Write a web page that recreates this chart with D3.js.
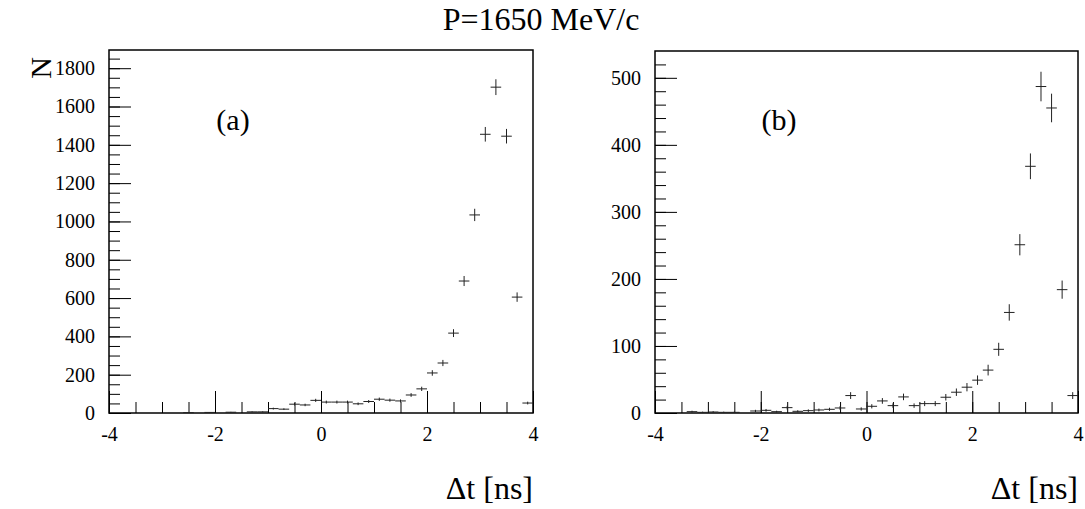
<!DOCTYPE html>
<html>
<head>
<meta charset="utf-8">
<script src="https://cdn.jsdelivr.net/npm/d3@7"></script>
<style>
  html, body { margin: 0; padding: 0; background: #fff; }
  svg { display: block; }
  text { font-family: "Liberation Serif", "DejaVu Serif", serif; fill: #000; }
</style>
</head>
<body>
<svg id="chart" width="1085" height="509"></svg>
<script>
// ---- data ----
const binCenters = [-3.9,-3.7,-3.5,-3.3,-3.1,-2.9,-2.7,-2.5,-2.3,-2.1,-1.9,-1.7,-1.5,-1.3,-1.1,-0.9,-0.7,-0.5,-0.3,-0.1,
                     0.1,0.3,0.5,0.7,0.9,1.1,1.3,1.5,1.7,1.9,2.1,2.3,2.5,2.7,2.9,3.1,3.3,3.5,3.7,3.9];
const countsA = [0,0,0,0,0,0,0,2,0,3,0,4,0,6,6,23,20,46,42,66,
                 57,57,57,48,60,72,67,63,94,126,209,261,417,689,1034,1455,1701,1445,605,52];
const countsB = [0,0,0,2,1,1.5,1,1,0,3,4,2,8,2.5,3.5,4.5,5.5,7.5,26,6,
                 10,18,11,24,11,14,14,23.5,31,38.5,49,64,95,150,251,368,487,455,184,26];
const binWidth = 0.2;
const xTickLabels = [-4,-2,0,2,4];
const yTickLabelsA = [0,200,400,600,800,1000,1200,1400,1600,1800];
const yTickLabelsB = [0,100,200,300,400,500];
const titleText = "P=1650 MeV/c";
const xLabel = "\u0394t [ns]";
const yLabel = "N";

// ---- layout ----
const svg = d3.select("#chart");
const panels = [
  {counts: countsA, left: 109, right: 533, top: 50, bottom: 413, ymax: 1895,
   yMajor: yTickLabelsA, yMinorStep: 50, tag: "(a)", tagX: 233},
  {counts: countsB, left: 655, right: 1078, top: 51, bottom: 413, ymax: 540,
   yMajor: yTickLabelsB, yMinorStep: 20, tag: "(b)", tagX: 779}
];
const fmt = d => String(d);

svg.append("text").attr("x", 541).attr("y", 30).attr("text-anchor", "middle")
  .style("font-size", "32px").text(titleText);

panels.forEach((p, i) => {
  const x = d3.scaleLinear().domain([-4, 4]).range([p.left, p.right]);
  const y = d3.scaleLinear().domain([0, p.ymax]).range([p.bottom, p.top]);
  const g = svg.append("g");

  // minor x ticks
  const xMinor = d3.range(-4, 4.001, 0.5);
  g.append("g").attr("transform", `translate(0,${p.bottom})`)
    .call(d3.axisBottom(x).tickValues(xMinor).tickSize(-11).tickSizeOuter(0).tickFormat(""))
    .call(s => s.select(".domain").remove())
    .call(s => s.selectAll("line").attr("stroke", "#000").attr("stroke-width", 1));
  // major x ticks + labels
  g.append("g").attr("transform", `translate(0,${p.bottom})`)
    .call(d3.axisBottom(x).tickValues(xTickLabels).tickSize(-22).tickSizeOuter(0).tickPadding(14)
      .tickFormat(fmt))
    .call(s => s.select(".domain").remove())
    .call(s => s.selectAll("line").attr("stroke", "#000").attr("stroke-width", 1))
    .call(s => s.selectAll("text").style("font-size", "20px").style("font-family", "Liberation Serif").attr("fill", "#000"));

  // minor y ticks
  const yMinor = d3.range(0, p.ymax, p.yMinorStep);
  g.append("g").attr("transform", `translate(${p.left},0)`)
    .call(d3.axisLeft(y).tickValues(yMinor).tickSize(-11).tickSizeOuter(0).tickFormat(""))
    .call(s => s.select(".domain").remove())
    .call(s => s.selectAll("line").attr("stroke", "#000").attr("stroke-width", 1));
  g.append("g").attr("transform", `translate(${p.left},0)`)
    .call(d3.axisLeft(y).tickValues(p.yMajor).tickSize(-22).tickSizeOuter(0).tickPadding(14)
      .tickFormat(fmt))
    .call(s => s.select(".domain").remove())
    .call(s => s.selectAll("line").attr("stroke", "#000").attr("stroke-width", 1))
    .call(s => s.selectAll("text").style("font-size", "20px").style("font-family", "Liberation Serif").attr("fill", "#000"));

  // frame
  g.append("rect").attr("x", p.left).attr("y", p.top)
    .attr("width", p.right - p.left).attr("height", p.bottom - p.top)
    .attr("fill", "none").attr("stroke", "#000").attr("stroke-width", 1.5);

  // data points with error bars
  const data = binCenters.map((c, k) => ({c, v: p.counts[k]})).filter(d => d.v > 0);
  const pts = g.append("g").attr("stroke", "#222").attr("stroke-width", 1);
  pts.selectAll("line.h").data(data).join("line").attr("class", "h")
    .attr("x1", d => x(d.c - binWidth / 2)).attr("x2", d => x(d.c + binWidth / 2))
    .attr("y1", d => y(d.v)).attr("y2", d => y(d.v));
  pts.selectAll("line.v").data(data).join("line").attr("class", "v")
    .attr("x1", d => x(d.c)).attr("x2", d => x(d.c))
    .attr("y1", d => y(Math.max(0, d.v - Math.sqrt(d.v))))
    .attr("y2", d => y(d.v + Math.sqrt(d.v)));

  // tag
  g.append("text").attr("x", p.tagX).attr("y", 130).attr("text-anchor", "middle")
    .style("font-size", "30px").text(p.tag);

  // x label
  g.append("text").attr("x", p.right).attr("y", 499).attr("text-anchor", "end")
    .style("font-size", "32px").text(xLabel);
});

// y label
svg.append("text").attr("transform", "translate(51,68) rotate(-90)")
  .attr("text-anchor", "middle").style("font-size", "30px").text(yLabel);
</script>
</body>
</html>
